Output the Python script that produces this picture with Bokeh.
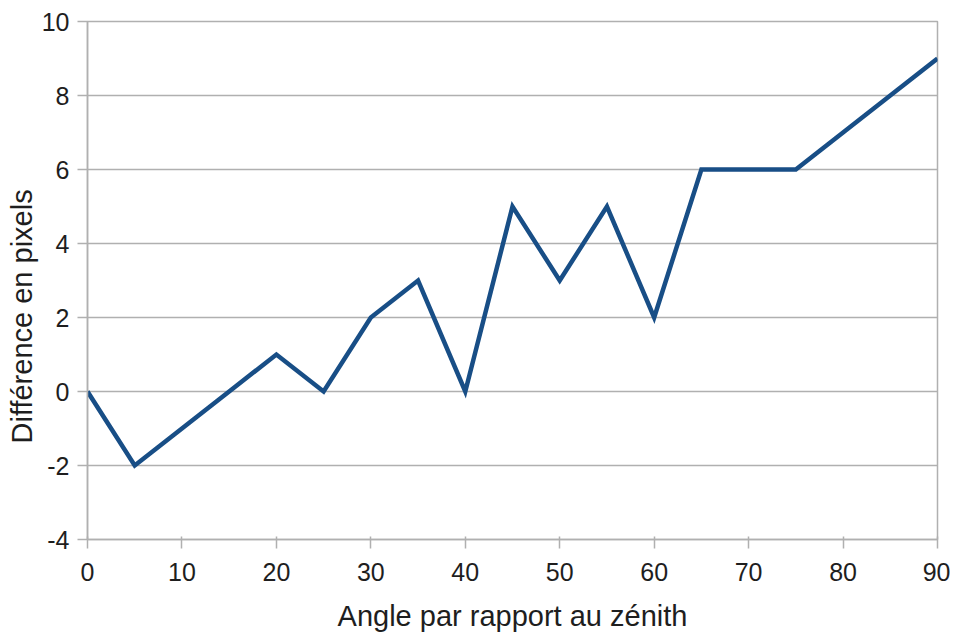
import math
from bokeh.plotting import figure
from bokeh.models import Range1d, FixedTicker, Title, PrintfTickFormatter
from bokeh.embed import file_html
from bokeh.resources import INLINE

angles = [0, 5, 10, 15, 20, 25, 30, 35, 40, 45, 50, 55, 60, 65, 70, 75, 80, 85, 90]
diffs = [0, -2, -1, 0, 1, 0, 2, 3, 0, 5, 3, 5, 2, 6, 6, 6, 7, 8, 9]
x_ticks = [0, 10, 20, 30, 40, 50, 60, 70, 80, 90]
y_ticks = [-4, -2, 0, 2, 4, 6, 8, 10]
x_title = "Angle par rapport au zénith"
y_title = "Différence en pixels"

FONT = "Liberation Sans"
GRID = "#b0b0b0"
TXT = "#1e1e1e"

p = figure(width=950, height=640, output_backend="svg", toolbar_location=None,
           x_range=Range1d(0, 90), y_range=Range1d(-4, 10),
           min_border_left=87, min_border_top=21, min_border_right=13, min_border_bottom=101)

p.line(angles, diffs, line_color="#184e86", line_width=4.5, line_join="miter")

p.outline_line_color = GRID
p.outline_line_width = 1.5
p.xgrid.visible = False
p.ygrid.grid_line_color = GRID
p.ygrid.grid_line_width = 1.5

for ax in (p.xaxis[0], p.yaxis[0]):
    ax.axis_line_color = GRID
    ax.axis_line_width = 1.5
    ax.major_tick_line_color = GRID
    ax.major_tick_line_width = 1.5
    ax.minor_tick_line_color = None
    ax.major_label_text_font = FONT
    ax.major_label_text_font_size = "25px"
    ax.major_label_text_color = TXT
    ax.formatter = PrintfTickFormatter(format="%d")

p.xaxis.ticker = FixedTicker(ticks=x_ticks)
p.yaxis.ticker = FixedTicker(ticks=y_ticks)
p.xaxis.major_tick_in = 3
p.xaxis.major_tick_out = 9
p.yaxis.major_tick_in = 0
p.yaxis.major_tick_out = 10
p.xaxis.major_label_standoff = 14
p.yaxis.major_label_standoff = 8

p.xaxis.axis_label = x_title
p.xaxis.axis_label_text_font = FONT
p.xaxis.axis_label_text_font_size = "29px"
p.xaxis.axis_label_text_font_style = "normal"
p.xaxis.axis_label_text_color = TXT
p.xaxis.axis_label_standoff = 16

ytitle = Title(text=y_title, align="left", offset=96, standoff=2,
               text_font=FONT, text_font_size="29px", text_font_style="normal",
               text_color=TXT)
p.add_layout(ytitle, "left")

open("out.html", "w").write(file_html(p, INLINE))
